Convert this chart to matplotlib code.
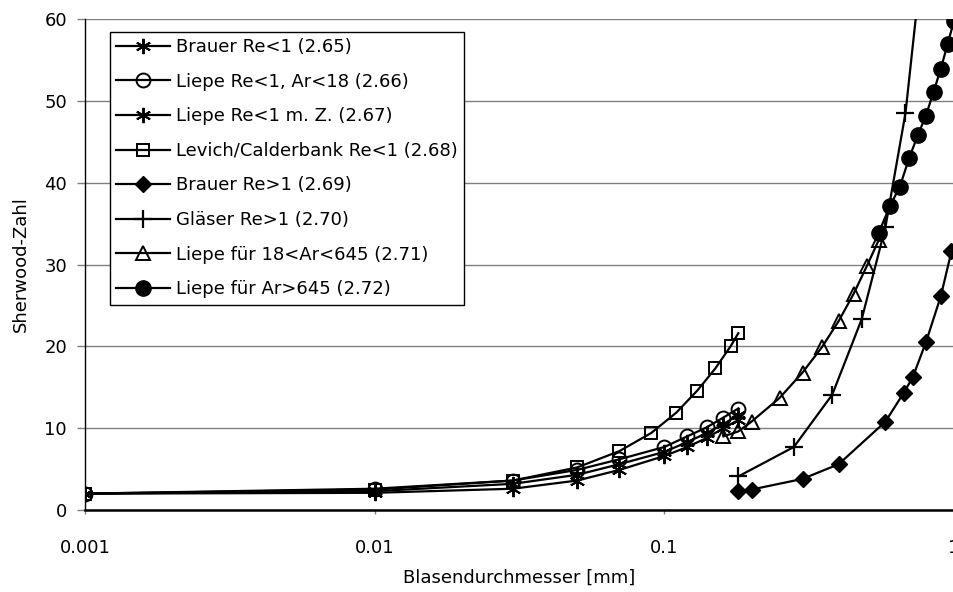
import matplotlib.pyplot as plt
from matplotlib.ticker import FixedLocator, FixedFormatter

# Blasendurchmesser [mm] und Sherwood-Zahl je Korrelation
d_brauer_lo = [0.001, 0.01, 0.03, 0.05, 0.07, 0.1, 0.12, 0.14, 0.16, 0.18]
sh_brauer_lo = [2.0, 2.1, 2.6, 3.6, 4.9, 6.6, 7.7, 8.8, 10.0, 11.0]

d_liepe_lo = [0.001, 0.01, 0.03, 0.05, 0.07, 0.1, 0.12, 0.14, 0.16, 0.18]
sh_liepe_lo = [2.0, 2.6, 3.6, 4.9, 6.2, 7.7, 9.0, 10.1, 11.3, 12.4]

d_liepe_mz = [0.001, 0.01, 0.03, 0.05, 0.07, 0.1, 0.12, 0.14, 0.16, 0.18]
sh_liepe_mz = [2.0, 2.3, 3.2, 4.3, 5.6, 7.1, 8.3, 9.4, 10.5, 11.6]

d_levich = [0.001, 0.01, 0.03, 0.05, 0.07, 0.09, 0.11, 0.13, 0.15, 0.17, 0.18]
sh_levich = [2.0, 2.5, 3.6, 5.2, 7.2, 9.4, 11.9, 14.6, 17.3, 20.1, 21.6]

d_brauer_hi = [0.18, 0.2, 0.3, 0.4, 0.58, 0.67, 0.72, 0.8, 0.9, 0.98]
sh_brauer_hi = [2.3, 2.5, 3.8, 5.6, 10.8, 14.3, 16.2, 20.5, 26.1, 31.6]

d_glaeser = [0.18, 0.28, 0.38, 0.48, 0.58, 0.68, 0.78]
sh_glaeser = [4.1, 7.7, 14.1, 23.3, 34.6, 48.5, 68.0]

d_liepe_mid = [0.16, 0.18, 0.2, 0.25, 0.3, 0.35, 0.4, 0.45, 0.5, 0.55]
sh_liepe_mid = [9.0, 9.6, 10.8, 13.7, 16.8, 19.9, 23.1, 26.4, 29.8, 33.0]

d_liepe_hi = [0.55, 0.6, 0.65, 0.7, 0.75, 0.8, 0.85, 0.9, 0.95, 1.0]
sh_liepe_hi = [33.9, 37.1, 39.5, 43.0, 45.8, 48.2, 51.1, 53.9, 56.9, 59.8]

x_ticks = [0.001, 0.01, 0.1, 1]
x_ticklabels = ["0.001", "0.01", "0.1", "1"]
y_ticks = [0, 10, 20, 30, 40, 50, 60]

plt.rcParams['font.family'] = ['DejaVu Sans']
fs = 13

fig = plt.figure(figsize=(9.54, 5.92), dpi=100)
ax = fig.add_axes([85/954, 82/592, 869/954, 491/592])

asterisk = (6, 2, 0)
kw = dict(color='black', lw=1.6, mec='black')
ax.plot(d_brauer_lo, sh_brauer_lo, marker=asterisk, ms=11, mew=1.4, label="Brauer Re<1 (2.65)", **kw)
ax.plot(d_liepe_lo, sh_liepe_lo, marker='o', ms=10, mfc='none', mew=1.4, label="Liepe Re<1, Ar<18 (2.66)", **kw)
ax.plot(d_liepe_mz, sh_liepe_mz, marker=asterisk, ms=11, mew=1.4, label="Liepe Re<1 m. Z. (2.67)", **kw)
ax.plot(d_levich, sh_levich, marker='s', ms=9, mfc='none', mew=1.4, label="Levich/Calderbank Re<1 (2.68)", **kw)
ax.plot(d_brauer_hi, sh_brauer_hi, marker='D', ms=8, mfc='black', label="Brauer Re>1 (2.69)", **kw)
ax.plot(d_glaeser, sh_glaeser, marker='+', ms=13, mew=1.6, label="Gläser Re>1 (2.70)", **kw)
ax.plot(d_liepe_mid, sh_liepe_mid, marker='^', ms=10, mfc='none', mew=1.4, label="Liepe für 18<Ar<645 (2.71)", **kw)
ax.plot(d_liepe_hi, sh_liepe_hi, marker='o', ms=11, mfc='black', label="Liepe für Ar>645 (2.72)", **kw)

ax.set_xscale('log')
ax.set_xlim(0.001, 1)
ax.set_ylim(0, 60)
ax.xaxis.set_major_locator(FixedLocator(x_ticks))
ax.xaxis.set_major_formatter(FixedFormatter(x_ticklabels))
ax.xaxis.set_minor_locator(FixedLocator([]))
ax.set_yticks(y_ticks)

ax.grid(axis='y', color='#808080', lw=1.0)
ax.set_axisbelow(True)
for s in ['top', 'right']:
    ax.spines[s].set_visible(False)
ax.spines['left'].set_linewidth(1.0)
ax.spines['bottom'].set_linewidth(1.8)
ax.tick_params(axis='y', direction='out', length=6, width=1, color='#808080', pad=7, labelsize=fs)
ax.tick_params(axis='x', direction='out', length=3, width=1, color='#808080', pad=18, labelsize=fs)

ax.set_xlabel("Blasendurchmesser [mm]", fontsize=fs, labelpad=8)
ax.set_ylabel("Sherwood-Zahl", fontsize=fs, labelpad=10)

leg = ax.legend(loc='upper left', bbox_to_anchor=(25/869, 1 - 12.7/491), borderaxespad=0,
                fontsize=fs, handlelength=3.0, handletextpad=0.3, labelspacing=0.92,
                borderpad=0.35, fancybox=False, framealpha=1, edgecolor='black')
leg.get_frame().set_linewidth(1.0)

fig.savefig("out.png", dpi=100)
